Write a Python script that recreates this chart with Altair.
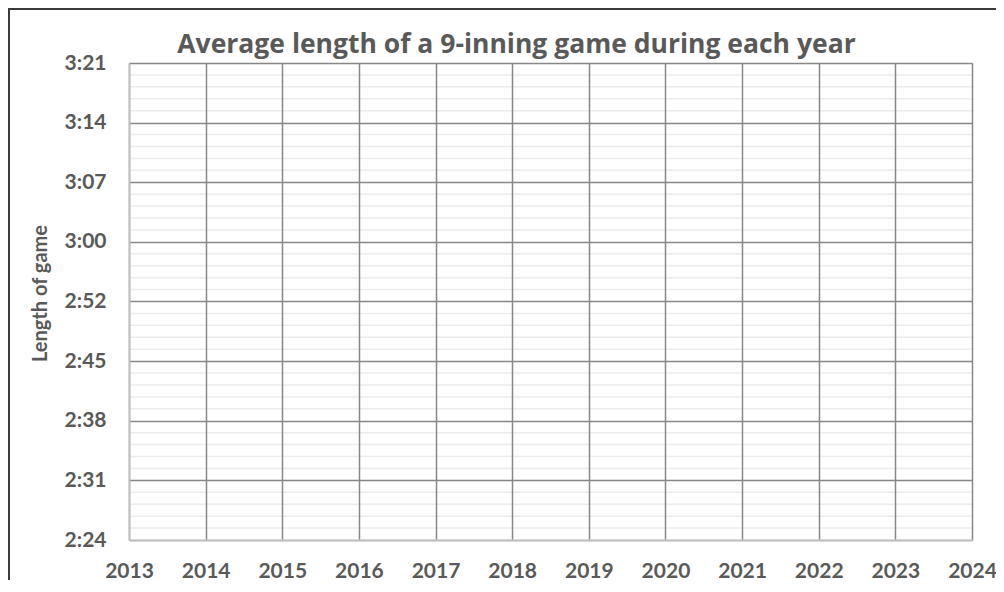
import altair as alt
import pandas as pd

# Chart content (empty chart: only axes/grid)
TITLE = "Average length of a 9-inning game during each year"
Y_TITLE = "Length of game"
YEARS = [2013, 2014, 2015, 2016, 2017, 2018, 2019, 2020, 2021, 2022, 2023, 2024]
# y axis in minutes: 2:24 ... 3:21 (Excel major unit 0.005 day = 7.2 min)
Y_MAJOR = [144.0, 151.2, 158.4, 165.6, 172.8, 180.0, 187.2, 194.4, 201.6]
Y_MINOR = [145.44, 146.88, 148.32, 149.76,
           152.64, 154.08, 155.52, 156.96,
           159.84, 161.28, 162.72, 164.16,
           167.04, 168.48, 169.92, 171.36,
           174.24, 175.68, 177.12, 178.56,
           181.44, 182.88, 184.32, 185.76,
           188.64, 190.08, 191.52, 192.96,
           195.84, 197.28, 198.72, 200.16]

FONT = "Lato"
TITLE_FONT = "Open Sans"
TXT = "#595959"
GRID = "#878787"
AXISLINE = "#bfbfbf"

W, H = 843, 477

years_df = pd.DataFrame({"year": YEARS})
minor_df = pd.DataFrame({"minutes": Y_MINOR})

label_expr = ("floor(datum.value/60) + ':' + "
              "(floor(datum.value%60+0.001) < 10 ? '0' : '') + floor(datum.value%60+0.001)")

minor = alt.Chart(minor_df).mark_rule(color="#ececec", strokeWidth=1.5).encode(
    y=alt.Y("minutes:Q",
            scale=alt.Scale(domain=[144.0, 201.6], nice=False, zero=False),
            axis=alt.Axis(values=Y_MAJOR, labelExpr=label_expr, title=Y_TITLE,
                          grid=True,
                          gridColor={"condition": {"test": "datum.value < 144.5", "value": AXISLINE},
                                     "value": GRID},
                          gridWidth=1.5, domainColor=AXISLINE, domainWidth=2,
                          ticks=False, labelPadding=23, labelFontSize=21,
                          labelFont=FONT, labelFontWeight="bold", labelColor=TXT,
                          titleFont=FONT, titleFontSize=20, titleFontWeight="bold",
                          titleColor=TXT, titleAngle=270, titleX=-83, titleY=230,
                          titleAlign="center", titleBaseline="alphabetic", zindex=1)),
)

years = alt.Chart(years_df).mark_point(opacity=0).encode(
    x=alt.X("year:Q",
            scale=alt.Scale(domain=[2013, 2024], nice=False, zero=False),
            axis=alt.Axis(values=YEARS, format="d", title=None, grid=True,
                          gridColor={"condition": {"test": "datum.value < 2013.5", "value": AXISLINE},
                                     "value": GRID},
                          gridWidth=1.5, domainColor=AXISLINE, domainWidth=2,
                          ticks=False, labelPadding=20, labelFontSize=21,
                          labelFlush=False, labelOverlap=False,
                          labelFont=FONT, labelFontWeight="bold", labelColor=TXT,
                          zindex=1)),
)

frame = alt.Chart(pd.DataFrame({"k": [0]})).mark_rect(
    filled=False, stroke="#3a3a3a", strokeWidth=2
).encode(
    x=alt.value(-120), x2=alt.value(W + 200),
    y=alt.value(-54), y2=alt.value(H + 200),
)

chart = alt.layer(minor, years, frame).properties(
    width=W, height=H,
    title=alt.TitleParams(TITLE, font=TITLE_FONT, fontSize=26.5, fontWeight="bold",
                          color=TXT, anchor="middle", dx=-34, dy=51,
                          baseline="alphabetic", offset=-20),
    autosize=alt.AutoSizeParams(type="none"),
    padding={"left": 121, "top": 55, "right": 24, "bottom": 40},
).configure_view(stroke=None).configure(background="white")

chart.save("out.html", embed_options={"renderer": "svg", "actions": False})
